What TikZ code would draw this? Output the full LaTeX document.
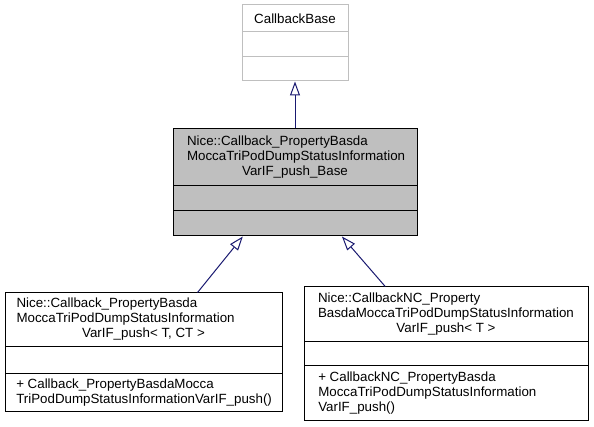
\documentclass[tikz,border=0pt]{standalone}
\usepackage{fontspec}
\setmainfont{Liberation Sans}
\usetikzlibrary{arrows.meta}
\definecolor{edgeblue}{HTML}{191970}
\definecolor{boxgrey}{HTML}{BFBFBF}
\newcommand{\pxu}{0.75pt}
\tikzset{
	classbox/.style={draw=black, fill=white, line width=\pxu, inner sep=0pt},
	classtext/.style={inner sep=0pt, font=\fontsize{10}{11.25}\selectfont},
	inherit/.style={draw=edgeblue, line width=\pxu, -{Triangle[open, length=10.5pt, width=7.5pt, fill=white]}}
}
\begin{document}
\begin{tikzpicture}[x=\pxu, y=-\pxu]
	\useasboundingbox (0,0) rectangle (594,427);
	% boxes
	\node[classbox, draw=boxgrey, minimum width=106*\pxu, minimum height=76*\pxu] (cbase) at (295,43) {};
	\node[classbox, fill=boxgrey, minimum width=244*\pxu, minimum height=107*\pxu] (base) at (295,182.5) {};
	\node[classbox, minimum width=277*\pxu, minimum height=119*\pxu] (lpush) at (143.5,352.5) {};
	\node[classbox, minimum width=284*\pxu, minimum height=134*\pxu] (npush) at (446,354) {};
	% compartments
	\draw[boxgrey, line width=\pxu] (242,32) -- (348,32) (242,57) -- (348,57);
	\draw[line width=\pxu] (173,186) -- (417,186) (173,211) -- (417,211);
	\draw[line width=\pxu] (5,347) -- (282,347) (5,374) -- (282,374);
	\draw[line width=\pxu] (304,342) -- (588,342) (304,366) -- (588,366);
	% texts
	\node[classtext] (cbasetitle) at (295,18.5) {CallbackBase};
	\node[classtext] (basetitle) at (295,157.5) {\begin{tabular}{@{}p{162pt}@{}}Nice::Callback\_PropertyBasda\\MoccaTriPodDumpStatusInformation\\\multicolumn{1}{@{}c@{}}{VarIF\_push\_Base}\end{tabular}};
	\node[classtext] (lpushtitle) at (143.5,320) {\begin{tabular}{@{}p{190.5pt}@{}}Nice::Callback\_PropertyBasda\\MoccaTriPodDumpStatusInformation\\\multicolumn{1}{@{}c@{}}{VarIF\_push< T, CT >}\end{tabular}};
	\node[classtext, anchor=west] (lpushops) at (16,393) {\begin{tabular}{@{}l@{}}+ Callback\_PropertyBasdaMocca\\TriPodDumpStatusInformationVarIF\_push()\end{tabular}};
	\node[classtext] (npushtitle) at (446,314.5) {\begin{tabular}{@{}p{192pt}@{}}Nice::CallbackNC\_Property\\BasdaMoccaTriPodDumpStatusInformation\\\multicolumn{1}{@{}c@{}}{VarIF\_push< T >}\end{tabular}};
	\node[classtext, anchor=west] (npushops) at (318,393.5) {\begin{tabular}{@{}l@{}}+ CallbackNC\_PropertyBasda\\MoccaTriPodDumpStatusInformation\\VarIF\_push()\end{tabular}};
	% inheritance
	\draw[inherit] (base.north) -- (cbase.south);
	\draw[inherit] (lpush.48) -- (base.226);
	\draw[inherit] (npush.132) -- (base.311);
\end{tikzpicture}
\end{document}
